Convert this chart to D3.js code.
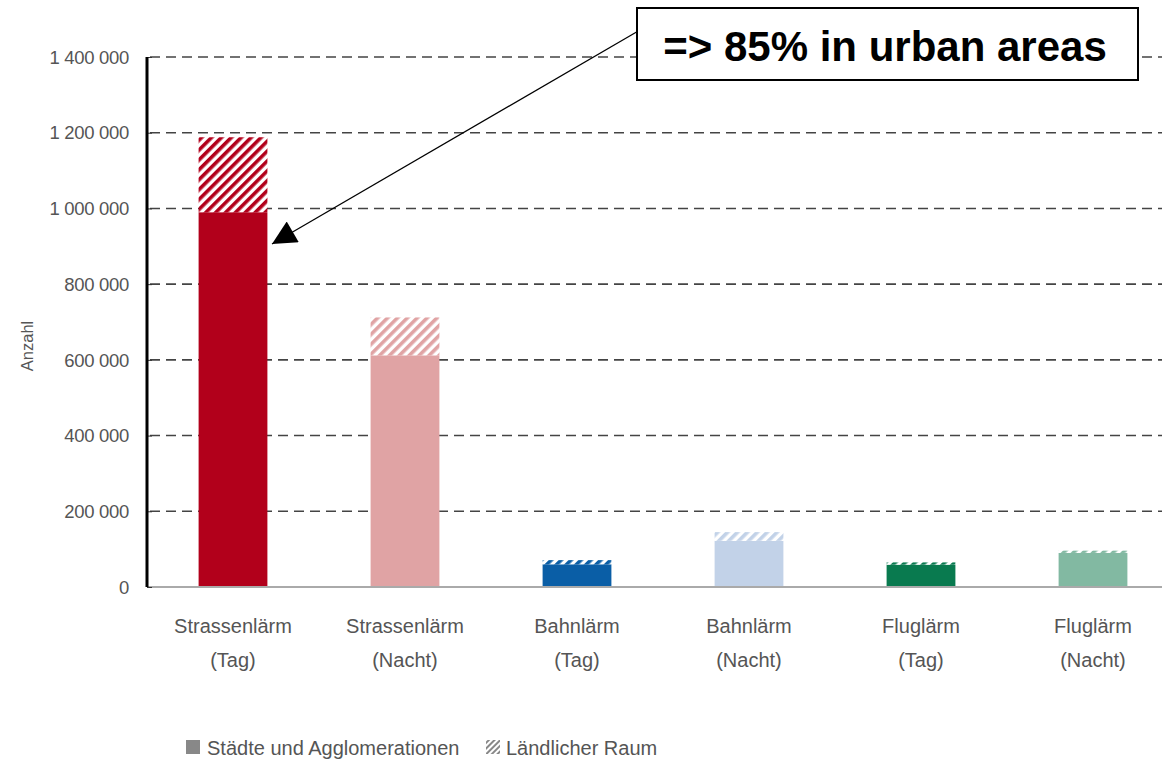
<!DOCTYPE html>
<html><head><meta charset="utf-8">
<script src="https://cdn.jsdelivr.net/npm/d3@7"></script>
<style>
body{margin:0;background:#fff;}
svg{display:block;font-family:"Liberation Sans",Arial,sans-serif;}
</style></head>
<body><svg id="c" width="1162" height="760"></svg>
<script>
const categories = ["Strassenlärm|(Tag)","Strassenlärm|(Nacht)","Bahnlärm|(Tag)","Bahnlärm|(Nacht)","Fluglärm|(Tag)","Fluglärm|(Nacht)"];
const urban = [990000, 612000, 60000, 122000, 59000, 90000];
const rural = [198000, 100000, 11000, 23000, 6000, 6000];
const colors = ["#b2001b","#e0a3a4","#0a5ea6","#c2d2e8","#097a4f","#82b9a2"];
const yTicks = [0,200000,400000,600000,800000,1000000,1200000,1400000];
const legendLabels = ["Städte und Agglomerationen","Ländlicher Raum"];
const yLabel = "Anzahl";
const note = "=> 85% in urban areas";

const svg = d3.select("#c");
const y = d3.scaleLinear().domain([0,1400000]).range([587,57]);
const x = d3.scaleBand().domain(categories).range([147,1179]).paddingInner(0.6).paddingOuter(0.3);
const loc = d3.formatLocale({decimal:",",thousands:" ",grouping:[3],currency:["",""]});
const fmt = loc.format(",d");

const defs = svg.append("defs");
colors.forEach((c,i)=>{
  const p = defs.append("pattern").attr("id","h"+i).attr("patternUnits","userSpaceOnUse")
    .attr("width",7).attr("height",7).attr("patternTransform","rotate(45)");
  p.append("rect").attr("width",7).attr("height",7).attr("fill","#fff");
  p.append("rect").attr("width",3.6).attr("height",7).attr("fill",c);
});
const lp = defs.append("pattern").attr("id","hl").attr("patternUnits","userSpaceOnUse")
  .attr("width",4).attr("height",4).attr("patternTransform","rotate(45)");
lp.append("rect").attr("width",4).attr("height",4).attr("fill","#fff");
lp.append("rect").attr("width",2).attr("height",4).attr("fill","#888");

// grid
svg.append("g").selectAll("line").data(yTicks.filter(d=>d>0)).join("line")
  .attr("x1",150).attr("x2",1162).attr("y1",d=>y(d)).attr("y2",d=>y(d))
  .attr("stroke","#444").attr("stroke-width",1.6).attr("stroke-dasharray","10,6");

// bars
const g = svg.append("g");
categories.forEach((c,i)=>{
  g.append("rect").attr("x",x(c)).attr("width",x.bandwidth())
    .attr("y",y(urban[i])).attr("height",y(0)-y(urban[i])).attr("fill",colors[i]);
  g.append("rect").attr("x",x(c)).attr("width",x.bandwidth())
    .attr("y",y(urban[i]+rural[i])).attr("height",y(urban[i])-y(urban[i]+rural[i])).attr("fill","url(#h"+i+")");
});

// baseline
svg.append("line").attr("x1",147).attr("x2",1162).attr("y1",y(0)).attr("y2",y(0))
  .attr("stroke","#aaa").attr("stroke-width",2);

// y axis
const ya = svg.append("g").attr("transform","translate(147,0)")
  .call(d3.axisRight(y).tickValues(yTicks).tickSize(5).tickFormat(""));
ya.select(".domain").remove();
ya.selectAll("line").attr("stroke","#333");
svg.append("line").attr("x1",147).attr("x2",147).attr("y1",y(1400000)).attr("y2",y(0))
  .attr("stroke","#000").attr("stroke-width",3);
svg.append("g").selectAll("text").data(yTicks).join("text")
  .attr("x",129).attr("y",d=>y(d)).attr("dy","0.36em").attr("text-anchor","end")
  .attr("font-size",18.5).attr("fill","#555").attr("letter-spacing","-0.3").text(d=>fmt(d));
svg.append("text").attr("transform","translate(33,346) rotate(-90)").attr("text-anchor","middle")
  .attr("font-size",16.5).attr("fill","#555").text(yLabel);

// x labels
categories.forEach(c=>{
  const parts = c.split("|");
  const cx = x(c)+x.bandwidth()/2;
  parts.forEach((p,j)=>{
    svg.append("text").attr("x",cx).attr("y",633+j*34).attr("text-anchor","middle")
      .attr("font-size",20).attr("fill","#555").text(p);
  });
});

// legend
svg.append("rect").attr("x",186).attr("y",740).attr("width",14).attr("height",14).attr("fill","#888");
svg.append("text").attr("x",207).attr("y",755).attr("font-size",20).attr("fill","#555").text(legendLabels[0]);
svg.append("rect").attr("x",486).attr("y",740).attr("width",14).attr("height",14).attr("fill","url(#hl)");
svg.append("text").attr("x",506).attr("y",755).attr("font-size",20).attr("fill","#555").text(legendLabels[1]);

// annotation
defs.append("marker").attr("id","arr").attr("viewBox","0 0 10 10").attr("refX",10).attr("refY",5)
  .attr("markerWidth",28).attr("markerHeight",24).attr("markerUnits","userSpaceOnUse").attr("orient","auto")
  .append("path").attr("d","M0,0L10,5L0,10Z").attr("fill","#000");
svg.append("line").attr("x1",640).attr("y1",30).attr("x2",272).attr("y2",244)
  .attr("stroke","#000").attr("stroke-width",1.3).attr("marker-end","url(#arr)");
svg.append("rect").attr("x",637).attr("y",8).attr("width",501).attr("height",72)
  .attr("fill","#fff").attr("stroke","#000").attr("stroke-width",2);
svg.append("text").attr("x",885).attr("y",61).attr("text-anchor","middle")
  .attr("font-size",42).attr("font-weight","bold").attr("fill","#000").text(note);
</script></body></html>
